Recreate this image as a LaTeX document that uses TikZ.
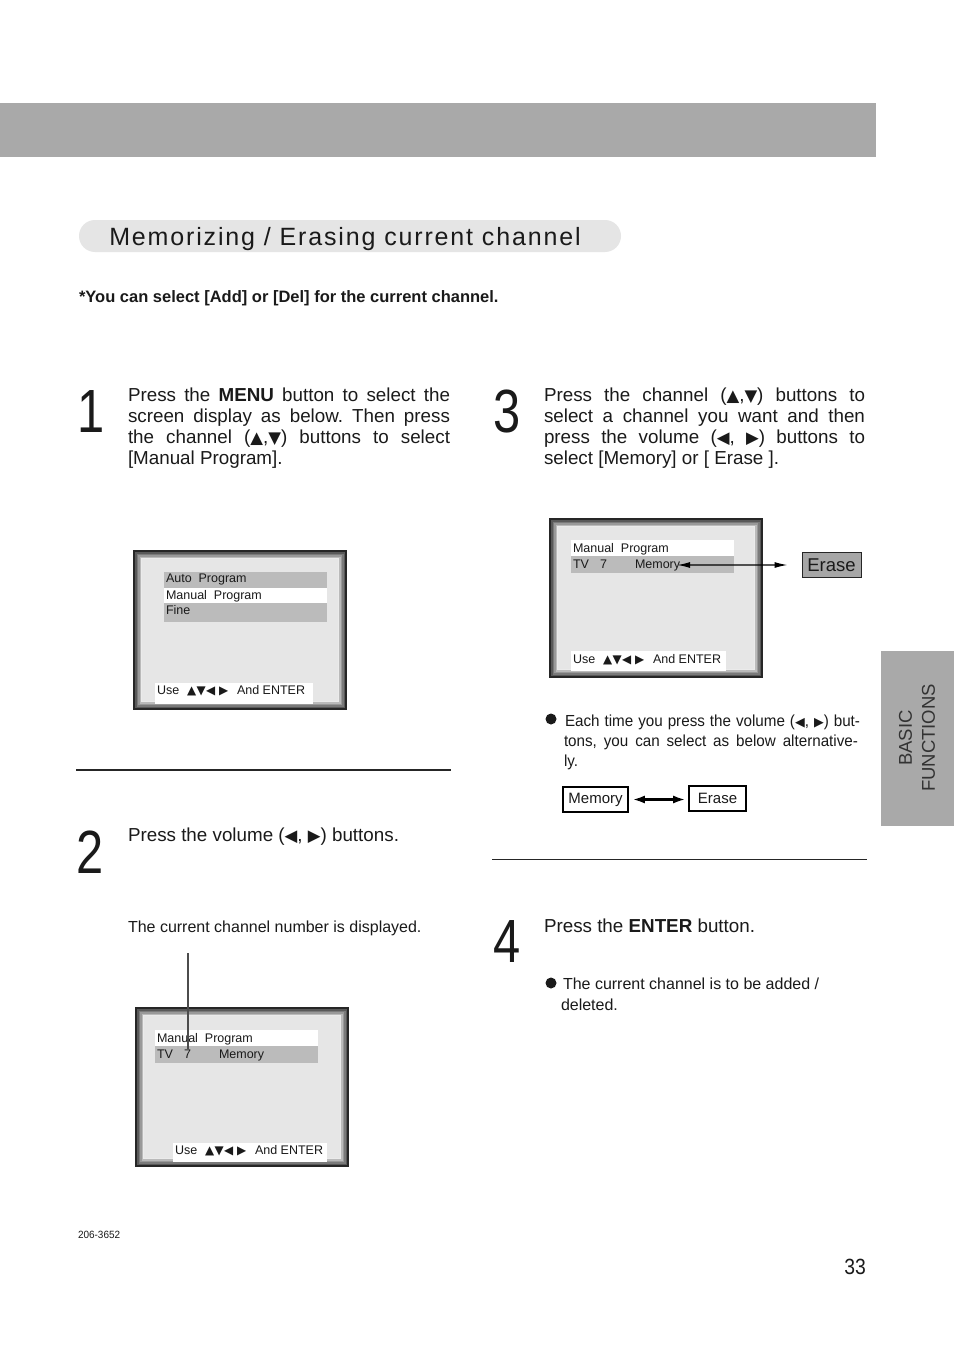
\documentclass[tikz,border=0pt]{standalone}
\usepackage{fontspec}
\usepackage{graphicx}
\setmainfont{Liberation Sans}
\newfontfamily\sym{DejaVu Sans}
\newfontfamily\narrowf[FakeStretch=0.95]{Liberation Sans}
\newfontfamily\condf[FakeStretch=0.88]{Liberation Sans}
\newfontfamily\spacedf[LetterSpace=7.4]{Liberation Sans}
\usetikzlibrary{arrows.meta}
\definecolor{band}{HTML}{A9A9A9}
\definecolor{pill}{HTML}{E5E5E5}
\definecolor{scr}{HTML}{E6E6E6}
\definecolor{bar}{HTML}{BBBBBB}
\definecolor{erasefill}{HTML}{A6A6A6}
\definecolor{ink}{HTML}{1A1A1A}
\frenchspacing
\newcommand\tU{{\sym\scalebox{0.88}{▲}}}
\newcommand\tD{{\sym\scalebox{0.88}{▼}}}
\newcommand\tL{{\sym\scalebox{0.88}{◀}}}
\newcommand\tR{{\sym\scalebox{0.88}{▶}}}
\newcommand\scrtri{{\sym\scalebox{0.95}{▲}\hspace{0.4pt}\scalebox{0.95}{▼}\hspace{0.4pt}\scalebox{0.95}{◀}\hspace{4pt}\scalebox{0.95}{▶}}}
\newcommand\bignum[1]{\scalebox{0.8}[1]{\fontsize{61}{61}\selectfont #1}}
\newcommand\tvframe[4]{%
  \fill[black!85] (#1,#2) rectangle (#3,#4);
  \fill[black!65] (#1+2,#2+2) rectangle (#3-2,#4-2);
  \fill[black!52] (#1+3.5,#2+3.5) rectangle (#3-3.5,#4-3.5);
  \fill[black!40] (#1+5,#2+5) rectangle (#3-5,#4-5);
  \fill[black!27] (#1+6.5,#2+6.5) rectangle (#3-6.5,#4-6.5);
  \fill[black!8] (#1+8,#2+8) rectangle (#3-8,#4-8);
  \fill[scr] (#1+9,#2+9) rectangle (#3-9,#4-9);}
\begin{document}
\begin{tikzpicture}[x=1pt,y=-1pt,
  txt/.style={anchor=base west,inner sep=0pt,outer sep=0pt,text=ink},
  body/.style={txt,font=\fontsize{18.8}{21}\selectfont},
  small/.style={txt,font=\fontsize{16}{20}\selectfont},
  scrtxt/.style={txt,font=\fontsize{12.5}{14}\selectfont},
  num/.style={txt},
  tri/.style={txt,font=\fontsize{12.5}{14}\selectfont},
  selbox/.style={draw=black,line width=1.6pt,inner sep=0pt,font=\fontsize{15}{15}\selectfont,text=ink},
  dbl/.style={line width=2.2pt,{Latex[length=12pt,width=8pt]}-{Latex[length=12pt,width=8pt]}},
  dbl3/.style={line width=1.2pt,{Latex[length=13pt,width=6pt]}-{Latex[length=13pt,width=6pt]}},
  rule/.style={line width=1.3pt,black!85}]
\useasboundingbox (0,0) rectangle (954,1351);
\fill[white] (0,0) rectangle (954,1351);

% header band and side tab
\fill[band] (0,103) rectangle (876,157);
\fill[band] (881,651) rectangle (954,826);
\node[rotate=90,align=center,inner sep=0pt,text=black!80,font=\fontsize{18.5}{23}\selectfont] (tab) at (917,738) {BASIC\\FUNCTIONS};

% title
\fill[pill,rounded corners=16pt] (79,220) rectangle (621,252);
\node[txt,anchor=base,font=\fontsize{25}{25}\selectfont\spacedf] (title) at (345,245) {Memorizing / Erasing current channel};
\node[txt,font=\fontsize{16.5}{18}\selectfont\bfseries] (note) at (79,302) {*You can select [Add] or [Del] for the current channel.};

% step 1
\node[num] (n1) at (77,432) {\bignum{1}};
\node[body] (s1a) at (128,401) {\makebox[322pt][s]{Press the \textbf{MENU} button to select the}};
\node[body] (s1b) at (128,422) {\makebox[322pt][s]{screen display as below. Then press}};
\node[body] (s1c) at (128,443) {\makebox[322pt][s]{the channel (\tU,\tD) buttons to select}};
\node[body] (s1d) at (128,464) {[Manual Program].};

% screen 1
\tvframe{133}{550}{347}{710}
\fill[bar] (164,572) rectangle (327,588);
\fill[white] (164,588) rectangle (327,603);
\fill[bar] (164,603) rectangle (327,622);
\fill[white] (155,683) rectangle (313,704);
\node[scrtxt] (m1a) at (166,582) {Auto\ \ Program};
\node[scrtxt] (m1b) at (166,599) {Manual\ \ Program};
\node[scrtxt] (m1c) at (166,614) {Fine};
\node[scrtxt] (u1a) at (157,694) {Use};
\node[tri] (u1b) at (187,694) {\scrtri};
\node[scrtxt] (u1c) at (237,694) {And ENTER};

\draw[rule] (76,770) -- (451,770);

% step 2
\node[num] (n2) at (76,873) {\bignum{2}};
\node[body] (s2a) at (128,841) {Press the volume (\tL, \tR) buttons.};
\node[small] (s2b) at (128,932) {The current channel number is displayed.};

% screen 2
\tvframe{135}{1007}{349}{1167}
\fill[white] (155,1030) rectangle (318,1046);
\fill[bar] (155,1046) rectangle (318,1063);
\fill[white] (173,1143) rectangle (327,1162);
\node[scrtxt] (m2a) at (157,1042) {Manual\ \ Program};
\node[scrtxt] (m2tv) at (157,1058) {TV};
\node[scrtxt] (m2seven) at (184,1058) {7};
\node[scrtxt] (m2mem) at (219,1058) {Memory};
\node[scrtxt] (u2a) at (175,1154) {Use};
\node[tri] (u2b) at (205,1154) {\scrtri};
\node[scrtxt] (u2c) at (255,1154) {And ENTER};
\coordinate (capt) at (188,953);
\draw[line width=1.5pt,black!70] (capt) -- (capt |- m2seven.north);

% step 3
\node[num] (n3) at (493,432) {\bignum{3}};
\node[body] (s3a) at (544,401) {\makebox[321pt][s]{Press the channel (\tU,\tD) buttons to}};
\node[body] (s3b) at (544,422) {\makebox[321pt][s]{select a channel you want and then}};
\node[body] (s3c) at (544,443) {\makebox[321pt][s]{press the volume (\tL, \tR) buttons to}};
\node[body] (s3d) at (544,464) {select [Memory] or [ Erase ].};

% screen 3
\tvframe{549}{518}{763}{678}
\fill[white] (571,540) rectangle (734,556);
\fill[bar] (571,556) rectangle (734,573);
\fill[white] (571,651) rectangle (726,671);
\node[scrtxt] (m3a) at (573,552) {Manual\ \ Program};
\node[scrtxt] (m3tv) at (573,568) {TV};
\node[scrtxt] (m3seven) at (600,568) {7};
\node[scrtxt] (m3mem) at (635,568) {Memory};
\node[scrtxt] (u3a) at (573,663) {Use};
\node[tri] (u3b) at (603,663) {\scrtri};
\node[scrtxt] (u3c) at (653,663) {And ENTER};
\node[draw=black!85,line width=1pt,fill=erasefill,minimum width=59pt,minimum height=25pt,inner sep=0pt,text=ink,font=\fontsize{18.5}{18.5}\selectfont] (erase3) at (831.5,565) {Erase};
\draw[dbl3] ([xshift=-3pt]m3mem.east) -- ([xshift=-14pt]erase3.west);

% bullet step 3
\fill[ink] (551,719) circle (5.5pt);
\node[txt,font=\fontsize{16}{20}\selectfont\narrowf] (b3a) at (565,726) {\makebox[295pt][s]{Each time you press the volume (\scalebox{0.9}{\tL}, \scalebox{0.9}{\tR}) but-}};
\node[txt,font=\fontsize{16}{20}\selectfont\narrowf] (b3b) at (564,746) {\makebox[294pt][s]{tons, you can select as below alternative-}};
\node[txt,font=\fontsize{16}{20}\selectfont\narrowf] (b3c) at (564,766) {ly.};
\node[selbox,minimum width=65pt,minimum height=25pt] (memB) at (595.5,799.5) {Memory};
\node[selbox,minimum width=57pt,minimum height=25pt] (eraB) at (717.5,798.5) {Erase};
\draw[dbl,shorten <=4pt,shorten >=3pt] (memB.east) -- (eraB.west |- memB.east);

\draw[line width=1pt,black!85] (492,859) -- (867,859);

% step 4
\node[num] (n4) at (493,962) {\bignum{4}};
\node[body] (s4a) at (544,932) {Press the \textbf{ENTER} button.};
\fill[ink] (551,983) circle (5.5pt);
\node[small] (s4b) at (563,989) {The current channel is to be added /};
\node[small] (s4c) at (561,1010) {deleted.};

% footer
\node[txt,font=\fontsize{10.5}{12}\selectfont\narrowf] (code) at (78,1238) {206-3652};
\node[txt,anchor=base east,font=\fontsize{22}{22}\selectfont\condf] (page) at (866,1274) {33};
\end{tikzpicture}
\end{document}
